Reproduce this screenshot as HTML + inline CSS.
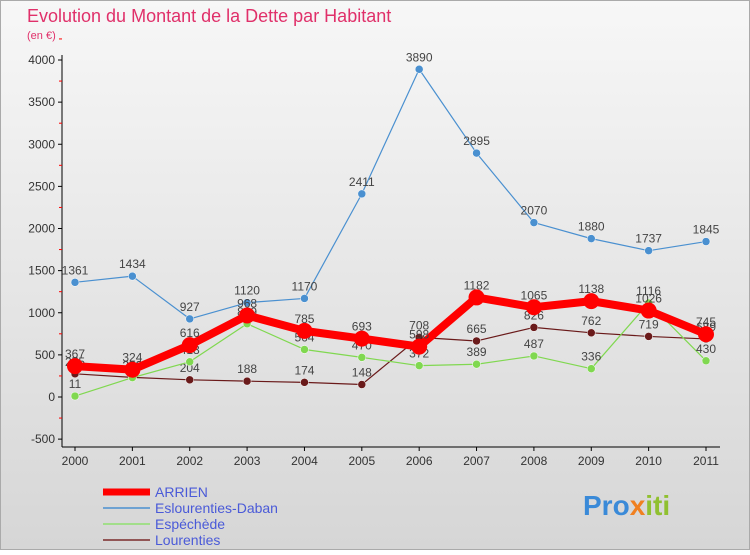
<!DOCTYPE html>
<html><head><meta charset="utf-8"><style>
body{margin:0;width:750px;height:550px;overflow:hidden;font-family:"Liberation Sans",sans-serif}
</style></head><body>
<svg id="c" width="750" height="550" xmlns="http://www.w3.org/2000/svg">
<defs><linearGradient id="bg" x1="0" y1="0" x2="0" y2="1"><stop offset="0" stop-color="#f7f7f7"/><stop offset="1" stop-color="#d6d6d6"/></linearGradient></defs>
<rect x="0.5" y="0.5" width="749" height="549" fill="url(#bg)" stroke="#aaa"/>
<text x="27" y="22" font-size="18" fill="#e0306a">Evolution du Montant de la Dette par Habitant</text>
<text x="27" y="39" font-size="11" fill="#e0306a">(en €)</text>
<g id="axes"></g><g id="series"></g>
<g font-size="14" fill="#4a5ad8">
<line x1="103" y1="492" x2="150" y2="492" stroke="#f00" stroke-width="7"/><text x="155" y="497">ARRIEN</text>
<line x1="103" y1="508" x2="150" y2="508" stroke="#4a90d0" stroke-width="1.5"/><text x="155" y="513">Eslourenties-Daban</text>
<line x1="103" y1="524" x2="150" y2="524" stroke="#90e070" stroke-width="1.5"/><text x="155" y="529">Espéchède</text>
<line x1="103" y1="540" x2="150" y2="540" stroke="#7a2a2a" stroke-width="1.5"/><text x="155" y="545">Lourenties</text>
</g>
<text x="583" y="515" font-size="28" font-weight="bold" fill="#3a8ad8">Pro<tspan fill="#f08020">x</tspan><tspan fill="#90c030">iti</tspan></text>
</svg>
<script>
const years=["2000","2001","2002","2003","2004","2005","2006","2007","2008","2009","2010","2011"];
const arrien=[367,324,616,968,785,693,598,1182,1065,1138,1026,745];
const eslourenties=[1361,1434,927,1120,1170,2411,3890,2895,2070,1880,1737,1845];
const espechede=[11,230,418,869,564,470,372,389,487,336,1116,430];
const lourenties=[275,233,204,188,174,148,708,665,826,762,719,689];
const yTicks=[-500,0,500,1000,1500,2000,2500,3000,3500,4000];
const NS="http://www.w3.org/2000/svg";
const X=i=>75+i*(706-75)/11, Y=v=>397-v*337/4000;
function mk(t,a,p){const e=document.createElementNS(NS,t);for(const k in a)e.setAttribute(k,a[k]);p.appendChild(e);return e;}
const ax=document.getElementById('axes');
const yl=mk('line',{x1:62,y1:55,x2:62,y2:447,stroke:'#000'},ax);


const xl=mk('line',{x1:62,y1:447,x2:720,y2:447,stroke:'#000'},ax);


yTicks.forEach(v=>{mk('line',{x1:58,y1:Y(v),x2:62,y2:Y(v),stroke:'#000'},ax);
mk('line',{x1:59,y1:Y(v+250),x2:62,y2:Y(v+250),stroke:'#f00'},ax);
const t=mk('text',{x:55,y:Y(v)+4,'text-anchor':'end','font-size':12,fill:'#333'},ax);t.textContent=v;

});
years.forEach((y,i)=>{mk('line',{x1:X(i),y1:447,x2:X(i),y2:451,stroke:'#000'},ax);
const t=mk('text',{x:X(i),y:465,'text-anchor':'middle','font-size':12,fill:'#333'},ax);t.textContent=y;

});
const sg=document.getElementById('series');
function series(d,name,col,w,r){const g=mk('g',{},sg);


mk('polyline',{points:d.map((v,i)=>X(i)+','+Y(v)).join(' '),fill:'none',stroke:col,'stroke-width':w,'stroke-linejoin':'round'},g);
d.forEach((v,i)=>{mk('circle',{cx:X(i),cy:Y(v),r:r,fill:col,stroke:r>5?'none':'#fff','stroke-width':0.5},g);
const t=mk('text',{x:X(i),y:Y(v)-8,'text-anchor':'middle','font-size':12,fill:'#444'},g);t.textContent=v;});}
series(lourenties,'series-lourenties','#6a1a1a',1.2,4);
series(espechede,'series-espechede','#80d850',1.2,4);
series(eslourenties,'series-eslourenties-daban','#4a90d0',1.2,4);
series(arrien,'series-arrien','#f00',8,8);
</script>
</body></html>
